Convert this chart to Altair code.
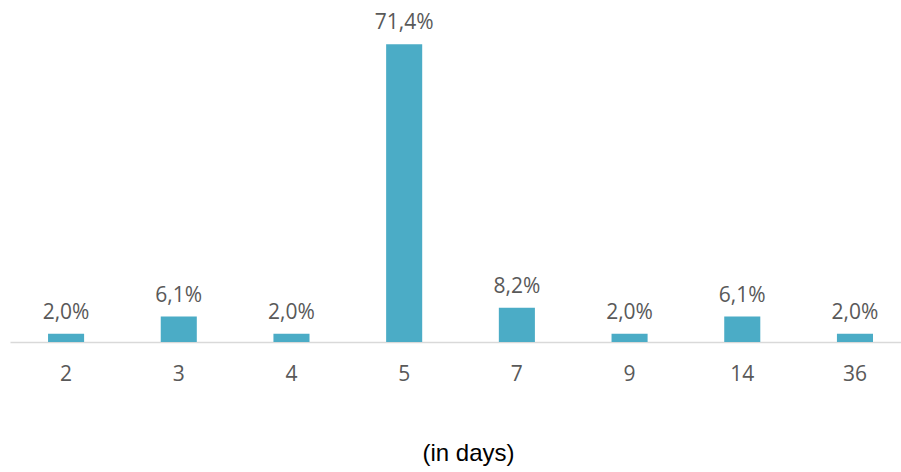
import altair as alt
import pandas as pd

days = ["2", "3", "4", "5", "7", "9", "14", "36"]
shares = [2.0, 6.1, 2.0, 71.4, 8.2, 2.0, 6.1, 2.0]

df = pd.DataFrame({"day": days, "share": shares})

xscale = alt.Scale(domain=days, paddingInner=0.68, paddingOuter=0.293, align=0.576)
yscale = alt.Scale(domain=[0, 82])

base = alt.Chart(df).encode(
    x=alt.X("day:N", sort=days, scale=xscale,
            axis=alt.Axis(title="(in days)", labelAngle=0, ticks=False, grid=False,
                          domainColor="#d9d9d9", domainWidth=1.5,
                          labelFont="Open Sans", labelFontSize=21, labelColor="#595959",
                          labelPadding=21,
                          titleFont="Liberation Sans", titleFontSize=24, titleFontWeight="normal",
                          titleColor="#000000", titlePadding=57, titleX=458)),
    y=alt.Y("share:Q", scale=yscale, axis=None),
)

bars = base.mark_bar(color="#4BACC6")
labels = base.transform_calculate(
    lab="replace(format(datum.share, '.1f'), '.', ',') + '%'"
).mark_text(dy=-11, baseline="bottom", font="Open Sans", fontSize=21, color="#595959").encode(
    text="lab:N"
)

chart = (bars + labels).properties(
    width=891, height=342,
    autosize=alt.AutoSizeParams(type="none"),
    padding={"left": 10, "top": 0, "right": 0, "bottom": 130},
).configure_view(stroke=None)

chart.save("out.html", embed_options={"renderer": "svg", "actions": False})
